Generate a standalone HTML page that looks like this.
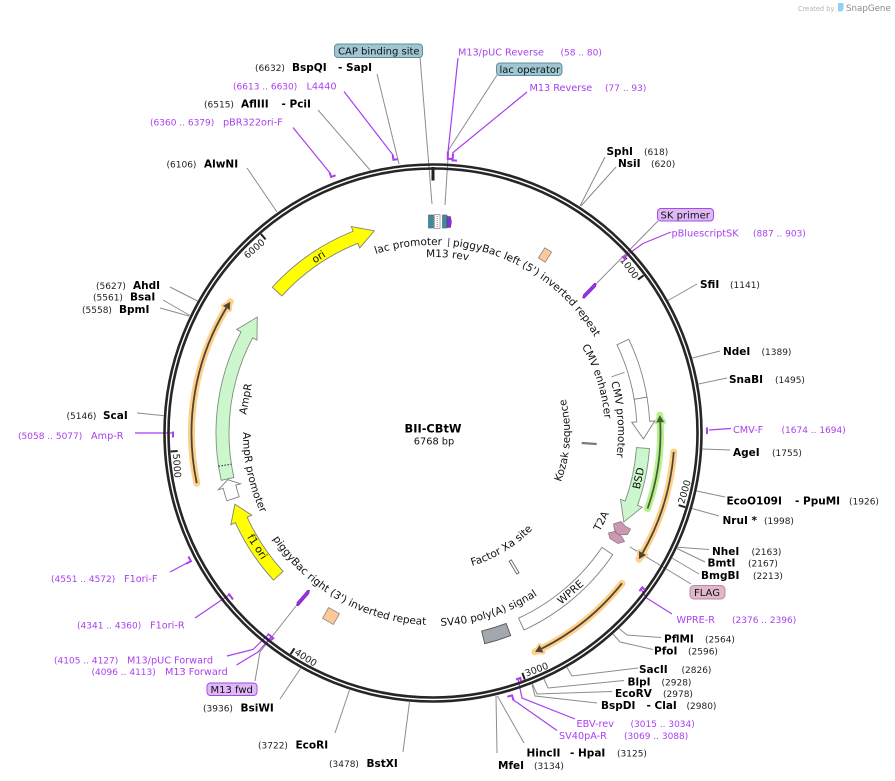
<!DOCTYPE html>
<html><head><meta charset="utf-8"><style>
html,body{margin:0;padding:0;background:#fff;}
svg{display:block;}
.b{font:bold 10.5px "DejaVu Sans",sans-serif;fill:#000;}
.n{font:9px "DejaVu Sans",sans-serif;fill:#222;}
.p{font:9.7px "DejaVu Sans",sans-serif;fill:#a83fef;}
.pn{font:9px "DejaVu Sans",sans-serif;fill:#a83fef;}
.f{font:10.5px "DejaVu Sans",sans-serif;fill:#111;}
.t{font:9.5px "DejaVu Sans",sans-serif;fill:#222;}
.bx{font:10px "DejaVu Sans",sans-serif;fill:#111;}
</style></head><body>
<svg width="895" height="781" viewBox="0 0 895 781" xmlns="http://www.w3.org/2000/svg">
<rect width="895" height="781" fill="#fff"/>
<defs>
<path id="cw188" d="M433,621 A188,188 0 1 1 433,245 A188,188 0 1 1 433,621"/>
<path id="cw176" d="M433,609 A176,176 0 1 1 433,257 A176,176 0 1 1 433,609"/>
<path id="cw172" d="M433,605 A172,172 0 1 1 433,261 A172,172 0 1 1 433,605"/>
<path id="cw185" d="M433,618 A185,185 0 1 1 433,248 A185,185 0 1 1 433,618"/>
<path id="ccw137" d="M433,296 A137,137 0 1 0 433,570 A137,137 0 1 0 433,296"/>
<path id="ccw138" d="M433,294.5 A138.5,138.5 0 1 0 433,571.5 A138.5,138.5 0 1 0 433,294.5"/>
<path id="ccw193" d="M433,240 A193,193 0 1 0 433,626 A193,193 0 1 0 433,240"/>
<path id="ccw192" d="M433,241 A192,192 0 1 0 433,625 A192,192 0 1 0 433,241"/>
<path id="ccw190" d="M433,243 A190,190 0 1 0 433,623 A190,190 0 1 0 433,243"/>
</defs>

<!-- watermark -->
<text x="798" y="11" style="font:6.6px 'DejaVu Sans',sans-serif;fill:#b4b4b4">Created by</text>
<path d="M838,3 L843.5,3 L843.5,8 Q843.5,11.5 840.5,11.5 L838,11.5 Z" fill="#8fd0f5"/>
<text x="846" y="11" style="font:8.7px 'DejaVu Sans',sans-serif;fill:#8a8a8a">SnapGene</text>

<!-- grey leader lines -->
<g stroke="#8c8c8c" stroke-width="1" fill="none">
<polyline points="420,57 432,204"/>
<polyline points="497,75 448.5,150 445,205"/>
<line x1="377" y1="74" x2="399" y2="164"/>
<line x1="318" y1="110" x2="370" y2="170"/>
<line x1="247" y1="168" x2="277" y2="212"/>
<line x1="605" y1="157" x2="580" y2="206"/>
<line x1="616" y1="167" x2="581" y2="206"/>
<line x1="658" y1="221" x2="597" y2="283"/>
<line x1="697" y1="284" x2="668" y2="300.5"/>
<line x1="720" y1="351" x2="692.5" y2="358"/>
<line x1="727" y1="378" x2="698.5" y2="384"/>
<line x1="730" y1="450" x2="702.5" y2="449"/>
<line x1="725" y1="497" x2="696.7" y2="491"/>
<line x1="719" y1="516" x2="692" y2="508.5"/>
<line x1="709" y1="549.5" x2="677.6" y2="547.3"/>
<line x1="705" y1="562" x2="677" y2="548.5"/>
<line x1="699" y1="574" x2="672" y2="558"/>
<line x1="691" y1="584" x2="630" y2="547"/>
<polyline points="661,637.5 627,635 619,628.5"/>
<polyline points="653,649.5 620,642 613,634"/>
<polyline points="638,668 572,676 567,667.5"/>
<polyline points="624,680.5 548,688 544,679"/>
<polyline points="612,691.5 537,694 532.4,684"/>
<polyline points="597,703 535,696 532,684.5"/>
<line x1="524" y1="743" x2="497.4" y2="696"/>
<line x1="497" y1="753" x2="496" y2="696"/>
<line x1="403" y1="752" x2="409.5" y2="702"/>
<line x1="335" y1="733" x2="349.5" y2="690"/>
<line x1="280" y1="699" x2="300.5" y2="668.5"/>
<polyline points="255,681 260,652 296,606"/>
<line x1="137" y1="413" x2="163.6" y2="415.6"/>
<line x1="160" y1="308" x2="189" y2="316"/>
<line x1="163" y1="300" x2="190" y2="315.5"/>
<line x1="170" y1="287" x2="197.5" y2="301"/>
<line x1="611.5" y1="376.8" x2="624.5" y2="372.3"/>
</g>

<!-- purple leader lines -->
<g stroke="#a83fef" stroke-width="1.2" fill="none">
<line x1="458" y1="58" x2="448" y2="152"/>
<line x1="527" y1="92" x2="452.5" y2="153"/>
<line x1="344" y1="91.5" x2="393" y2="155"/>
<line x1="293" y1="127.5" x2="330" y2="173"/>
<polyline points="671,232 643,243.5 624,257"/>
<line x1="731" y1="428.5" x2="709" y2="430"/>
<polyline points="672,614 646.5,598 641,589"/>
<polyline points="575,719 522,698 518,679"/>
<line x1="557" y1="730.5" x2="513.5" y2="700"/>
<polyline points="227,656 253,649.5 268,635"/>
<polyline points="236.5,665 258,652 271,637"/>
<line x1="195" y1="618" x2="229" y2="595"/>
<line x1="170" y1="572" x2="187" y2="563"/>
<line x1="135" y1="433" x2="172" y2="433"/>
</g>

<!-- main ring -->
<circle cx="433" cy="433" r="268.5" fill="none" stroke="#262626" stroke-width="2.6"/>
<circle cx="433" cy="433" r="264.5" fill="none" stroke="#262626" stroke-width="2.6"/>
<rect x="431.5" y="167" width="3" height="13.5" fill="#222"/>

<!-- ticks -->
<g stroke="#222" stroke-width="2">
<line x1="643.57" y1="275.42" x2="637.97" y2="279.61"/>
<line x1="685.34" y1="507.18" x2="678.62" y2="505.21"/>
<line x1="524.79" y1="679.47" x2="522.35" y2="672.91"/>
<line x1="290.65" y1="654.18" x2="294.44" y2="648.29"/>
<line x1="170.65" y1="451.54" x2="177.64" y2="451.05"/>
<line x1="260.97" y1="234.06" x2="265.55" y2="239.36"/>
</g>
<g class="t">
<text class="t" transform="rotate(53.191 433 433)" x="430.5" y="180" text-anchor="end">1000</text>
<text class="t" transform="rotate(-40.851 433 433)" x="430.5" y="180" text-anchor="end">6000</text>
<text class="t" transform="rotate(-73.617 433 433)" x="435.5" y="694" text-anchor="start">2000</text>
<text class="t" transform="rotate(-20.426 433 433)" x="435.5" y="694" text-anchor="start">3000</text>
<text class="t" transform="rotate(32.766 433 433)" x="435.5" y="694" text-anchor="start">4000</text>
<text class="t" transform="rotate(85.957 433 433)" x="435.5" y="694" text-anchor="start">5000</text>
</g>

<!-- primer markers -->
<g stroke="#a83fef" stroke-width="2" fill="none">
<polyline points="329.6,172.5 331.1,177 335.6,175.3"/>
<polyline points="392.7,154.9 393.4,159.8 397.7,159.3"/>
<polyline points="447.8,151.5 447.8,159 453.4,158.8"/>
<polyline points="453.1,153.3 452.5,160.4 457,160.6"/>
<polyline points="627,255.5 623,257 625.5,259.8"/>
<line x1="707" y1="427.5" x2="707" y2="434"/>
<polyline points="645,590 642.3,587.3 639.4,591.1"/>
<polyline points="521,681.5 520.3,677.9 516,679.4"/>
<polyline points="513.6,700.6 512,695.4 507.3,696.7"/>
<polyline points="270.5,640.5 273.3,638.2 267.6,633.6"/>
<polyline points="233,599.5 231.2,597 228.4,593.4"/>
<polyline points="186,563.8 190.9,561.2 188.4,556.5"/>
<line x1="173" y1="431.5" x2="173" y2="437.5"/>
</g>

<!-- ORF lines -->
<g fill="none" stroke-linecap="round">
<path d="M673.76,451.95 A241.5,241.5 0 0 1 638.91,559.18" stroke="#ffd08a" stroke-width="7"/>
<path d="M622.00,583.34 A241.5,241.5 0 0 1 535.06,651.87" stroke="#ffd08a" stroke-width="7"/>
<path d="M196.78,483.21 A241.5,241.5 0 0 1 230.23,301.82" stroke="#ffd08a" stroke-width="7"/>
<path d="M647.58,508.57 A227.5,227.5 0 0 0 659.80,415.15" stroke="#b9f08f" stroke-width="7"/>
</g>
<g stroke-linejoin="round">
<polygon points="639.10,551.03 638.91,559.18 646.04,555.01" fill="#ffd08a" stroke="#ffd08a" stroke-width="4"/>
<polygon points="539.71,645.18 535.06,651.87 543.31,652.32" fill="#ffd08a" stroke="#ffd08a" stroke-width="4"/>
<polygon points="229.82,309.97 230.23,301.82 222.97,305.82" fill="#ffd08a" stroke="#ffd08a" stroke-width="4"/>
<polygon points="656.25,422.47 659.80,415.15 664.24,422.09" fill="#b9f08f" stroke="#b9f08f" stroke-width="4"/>
</g>
<g fill="none" stroke-width="1.8">
<path d="M673.76,451.95 A241.5,241.5 0 0 1 642.57,553.02" stroke="#4d4535"/>
<path d="M622.00,583.34 A241.5,241.5 0 0 1 541.51,648.75" stroke="#4d4535"/>
<path d="M196.78,483.21 A241.5,241.5 0 0 1 226.39,307.90" stroke="#4d4535"/>
<path d="M647.58,508.57 A227.5,227.5 0 0 0 660.25,422.28" stroke="#43603a"/>
</g>
<polygon points="639.10,551.03 638.91,559.18 646.04,555.01" fill="#4d4535"/>
<polygon points="539.71,645.18 535.06,651.87 543.31,652.32" fill="#4d4535"/>
<polygon points="229.82,309.97 230.23,301.82 222.97,305.82" fill="#4d4535"/>
<polygon points="656.25,422.47 659.80,415.15 664.24,422.09" fill="#43603a"/>

<!-- features -->
<g stroke-width="0.9" stroke-linejoin="miter">
<path d="M272.25,287.24 A217,217 0 0 1 353.12,231.24 L351.28,226.59 L374.27,230.86 L359.74,247.97 L357.90,243.32 A204,204 0 0 0 281.88,295.97 Z" fill="#ffff00" stroke="#808080"/>
<path d="M221.21,480.34 A217,217 0 0 1 241.04,331.79 L236.62,329.46 L257.26,317.12 L256.97,340.19 L252.54,337.86 A204,204 0 0 0 233.90,477.50 Z" fill="#ccf7cc" stroke="#7f8f7f"/>
<line x1="218.55" y1="466.2" x2="231.4" y2="464.21" stroke="#222" stroke-width="1" stroke-dasharray="1.5,1.5"/>
<path d="M226.86,500.78 A217,217 0 0 1 223.20,488.43 L218.37,489.71 L227.73,479.64 L240.60,483.83 L235.77,485.11 A204,204 0 0 0 239.21,496.72 Z" fill="#fff" stroke="#808080"/>
<path d="M273.52,580.16 A217,217 0 0 1 235.38,522.64 L230.83,524.71 L234.94,504.30 L251.77,515.21 L247.22,517.27 A204,204 0 0 0 283.08,571.35 Z" fill="#ffff00" stroke="#808080"/>
<path d="M628.70,339.23 A217,217 0 0 1 647.03,397.18 L634.20,399.33 A204,204 0 0 0 616.98,344.85 Z" fill="#fff" stroke="#808080"/>
<path d="M647.03,397.18 A217,217 0 0 1 649.68,421.26 L654.68,421.00 L643.42,438.88 L631.71,422.24 L636.70,421.97 A204,204 0 0 0 634.20,399.33 Z" fill="#fff" stroke="#808080"/>
<path d="M649.45,448.52 A217,217 0 0 1 637.55,505.44 L642.27,507.11 L623.78,521.96 L620.59,499.43 L625.30,501.10 A204,204 0 0 0 636.48,447.59 Z" fill="#ccf7cc" stroke="#7f8f7f"/>
<path d="M612.72,554.63 A217,217 0 0 1 524.02,629.99 L518.57,618.19 A204,204 0 0 0 601.95,547.34 Z" fill="#fff" stroke="#808080"/>
<path d="M510.77,635.59 A217,217 0 0 1 484.76,643.74 L481.66,631.11 A204,204 0 0 0 506.11,623.45 Z" fill="#a3a7ae" stroke="#555"/>
<polygon points="613.5,524 621,521.5 625,526 630.5,529 627.5,534.5 618,535 614.5,530" fill="#cc99b2" stroke="#8a6a7a" stroke-width="0.7"/>
<polygon points="608.5,533 614.5,531.5 622,537 624.5,541.5 618,543.5 610,538.5" fill="#cc99b2" stroke="#8a6a7a" stroke-width="0.7"/>
<rect x="-4" y="-6" width="8" height="12" transform="translate(545,255) rotate(32.2)" fill="#ffc896" stroke="#888" stroke-width="0.8"/>
<rect x="-6.2" y="-6.2" width="12.4" height="12.4" transform="translate(331,616) rotate(29.1)" fill="#ffc896" stroke="#888" stroke-width="0.8"/>
<polygon points="-10,0 -7,-1.6 9,-1.6 10,0 7,1.6 -9,1.6" transform="translate(589.5,290.7) rotate(-46)" fill="#9b30e6" stroke="#5f1c8f" stroke-width="0.5"/>
<polygon points="-10,0 -7,-1.6 9,-1.6 10,0 7,1.6 -9,1.6" transform="translate(303,598) rotate(-48.8)" fill="#9b30e6" stroke="#5f1c8f" stroke-width="0.5"/>
<rect x="-1.1" y="-7.5" width="2.2" height="15" transform="translate(589.2,443.5) rotate(93.7)" fill="#7a7a7a"/>
<rect x="-1.3" y="-7.5" width="2.6" height="15" transform="translate(514.1,567) rotate(148.8)" fill="#fff" stroke="#666" stroke-width="0.9"/>
<rect x="428.5" y="215" width="5" height="13" fill="#3a8ca3" stroke="#555" stroke-width="0.6"/>
<rect x="434.5" y="214.5" width="5.5" height="14" fill="#fff" stroke="#777" stroke-width="0.6"/>
<line x1="437.2" y1="216" x2="437.2" y2="227" stroke="#777" stroke-width="1" stroke-dasharray="1,1"/>
<rect x="442.5" y="215" width="4.5" height="13" fill="#3a8ca3" stroke="#555" stroke-width="0.6"/>
<polygon points="447,216.5 450.5,216.5 451.5,222 450.5,227.5 447,227.5" fill="#8a2be2" stroke="#444" stroke-width="0.5"/>
</g>
<line x1="449" y1="238" x2="448.3" y2="247" stroke="#555" stroke-width="1"/>

<!-- inner feature labels -->
<text class="f"><textPath href="#cw188" startOffset="565.66" text-anchor="middle">lac promoter</textPath></text>
<text class="f"><textPath href="#cw176" startOffset="567.05" text-anchor="middle">M13 rev</textPath></text>
<text class="f"><textPath href="#cw188" startOffset="697.57" text-anchor="middle">piggyBac left (5') inverted repeat</textPath></text>
<text class="f"><textPath href="#cw172" startOffset="758.0" text-anchor="middle">CMV enhancer</textPath></text>
<text class="f"><textPath href="#cw185" startOffset="857.92" text-anchor="middle">CMV promoter</textPath></text>
<text class="f"><textPath href="#ccw137" startOffset="637.47" text-anchor="middle">Kozak sequence</textPath></text>
<text class="f"><textPath href="#ccw138" startOffset="510.29" text-anchor="middle">Factor Xa site</textPath></text>
<text class="f"><textPath href="#ccw193" startOffset="665.27" text-anchor="middle">SV40 poly(A) signal</textPath></text>
<text class="f"><textPath href="#ccw192" startOffset="504.67" text-anchor="middle">piggyBac right (3') inverted repeat</textPath></text>
<text class="f"><textPath href="#ccw190" startOffset="339.24" text-anchor="middle">AmpR promoter</textPath></text>
<text class="f" transform="rotate(327 433 433)" x="433" y="226.5" text-anchor="middle">ori</text>
<text class="f" transform="rotate(280.3 433 433)" x="433" y="246" text-anchor="middle">AmpR</text>
<text class="f" transform="rotate(-77.6 433 433)" x="433" y="647" text-anchor="middle">BSD</text>
<text class="f" transform="rotate(-62.4 433 433)" x="433" y="626.4" text-anchor="middle">T2A</text>
<text class="f" transform="rotate(-40.8 433 433)" x="433" y="646.8" text-anchor="middle">WPRE</text>
<text class="f" transform="rotate(57.1 433 433)" x="433" y="645.8" text-anchor="middle">f1 ori</text>

<!-- center -->
<text x="433" y="432.5" text-anchor="middle" style="font:bold 11.4px 'DejaVu Sans',sans-serif;fill:#000">BII-CBtW</text>
<text x="434" y="444.5" text-anchor="middle" style="font:9.8px 'DejaVu Sans',sans-serif;fill:#111">6768 bp</text>

<!-- boxed labels -->
<rect x="334.5" y="44" width="88" height="13.5" rx="3.5" fill="#9fc6d2" stroke="#5c8e9b" stroke-width="1"/>
<text class="bx" x="338" y="54.5">CAP binding site</text>
<rect x="496.5" y="63" width="65.5" height="12.5" rx="3.5" fill="#9fc6d2" stroke="#5c8e9b" stroke-width="1"/>
<text class="bx" x="499.5" y="73">lac operator</text>
<rect x="657.5" y="208.5" width="56" height="12.5" rx="3.5" fill="#dfb8f7" stroke="#a24ee0" stroke-width="1"/>
<text class="bx" x="660.5" y="218.5">SK primer</text>
<rect x="690" y="585.5" width="35" height="13.5" rx="4" fill="#e0b7c9" stroke="#b58ca0" stroke-width="1"/>
<text class="bx" x="694" y="596">FLAG</text>
<rect x="207" y="683" width="50" height="12.5" rx="3.5" fill="#dfb8f7" stroke="#a24ee0" stroke-width="1"/>
<text class="bx" x="210.5" y="693">M13 fwd</text>

<!-- top labels -->
<text class="p" x="458" y="55.5">M13/pUC Reverse</text><text class="pn" x="560.5" y="55.5">(58 .. 80)</text>
<text class="p" x="529.5" y="91">M13 Reverse</text><text class="pn" x="605" y="91">(77 .. 93)</text>
<text class="n" x="255" y="71">(6632)</text><text class="b" x="292" y="71">BspQI</text><text class="b" x="338" y="71">- SapI</text>
<text class="pn" x="233" y="89.5">(6613 .. 6630)</text><text class="p" x="306.5" y="89.5">L4440</text>
<text class="n" x="204" y="107.5">(6515)</text><text class="b" x="241" y="107.5">AflIII</text><text class="b" x="281.5" y="107.5">- PciI</text>
<text class="pn" x="150" y="125.5">(6360 .. 6379)</text><text class="p" x="223" y="125.5">pBR322ori-F</text>
<text class="n" x="166.5" y="167.5">(6106)</text><text class="b" x="204" y="167.5">AlwNI</text>

<!-- right labels -->
<text class="b" x="606.5" y="155">SphI</text><text class="n" x="644" y="155">(618)</text>
<text class="b" x="618" y="167">NsiI</text><text class="n" x="651" y="167">(620)</text>
<text class="p" x="671.5" y="236.5">pBluescriptSK</text><text class="pn" x="753" y="236.5">(887 .. 903)</text>
<text class="b" x="700" y="288">SfiI</text><text class="n" x="730" y="288">(1141)</text>
<text class="b" x="723" y="355">NdeI</text><text class="n" x="761.5" y="355">(1389)</text>
<text class="b" x="729" y="383">SnaBI</text><text class="n" x="775" y="383">(1495)</text>
<text class="p" x="733" y="433">CMV-F</text><text class="pn" x="781.5" y="433">(1674 .. 1694)</text>
<text class="b" x="733" y="456">AgeI</text><text class="n" x="772" y="456">(1755)</text>
<text class="b" x="726.5" y="504.5">EcoO109I</text><text class="b" x="795" y="504.5">- PpuMI</text><text class="n" x="849" y="504.5">(1926)</text>
<text class="b" x="722.5" y="524">NruI *</text><text class="n" x="764" y="524">(1998)</text>
<text class="b" x="712" y="555">NheI</text><text class="n" x="751.5" y="555">(2163)</text>
<text class="b" x="707.5" y="566.5">BmtI</text><text class="n" x="748" y="566.5">(2167)</text>
<text class="b" x="701" y="579">BmgBI</text><text class="n" x="753" y="579">(2213)</text>
<text class="p" x="676.5" y="623">WPRE-R</text><text class="pn" x="732" y="623">(2376 .. 2396)</text>
<text class="b" x="664" y="642.5">PflMI</text><text class="n" x="705" y="642.5">(2564)</text>
<text class="b" x="654" y="654.5">PfoI</text><text class="n" x="688" y="654.5">(2596)</text>
<text class="b" x="639" y="673">SacII</text><text class="n" x="681.5" y="673">(2826)</text>
<text class="b" x="627.5" y="685.5">BlpI</text><text class="n" x="661.5" y="685.5">(2928)</text>
<text class="b" x="615" y="697">EcoRV</text><text class="n" x="663" y="697">(2978)</text>
<text class="b" x="601" y="709">BspDI</text><text class="b" x="646.5" y="709">- ClaI</text><text class="n" x="686.5" y="709">(2980)</text>
<text class="p" x="576.5" y="727">EBV-rev</text><text class="pn" x="630.5" y="727">(3015 .. 3034)</text>
<text class="p" x="559" y="739">SV40pA-R</text><text class="pn" x="624" y="739">(3069 .. 3088)</text>
<text class="b" x="526.5" y="756.5">HincII</text><text class="b" x="570" y="756.5">- HpaI</text><text class="n" x="617" y="756.5">(3125)</text>
<text class="b" x="498" y="769">MfeI</text><text class="n" x="534" y="769">(3134)</text>

<!-- bottom-left labels -->
<text class="n" x="329" y="767">(3478)</text><text class="b" x="366.5" y="767">BstXI</text>
<text class="n" x="258" y="748.5">(3722)</text><text class="b" x="295.5" y="748.5">EcoRI</text>
<text class="n" x="203" y="711.5">(3936)</text><text class="b" x="240.5" y="711.5">BsiWI</text>
<text class="pn" x="91.5" y="675">(4096 .. 4113)</text><text class="p" x="165" y="675">M13 Forward</text>
<text class="pn" x="54" y="663.5">(4105 .. 4127)</text><text class="p" x="127" y="663.5">M13/pUC Forward</text>
<text class="pn" x="77" y="628.5">(4341 .. 4360)</text><text class="p" x="150" y="628.5">F1ori-R</text>
<text class="pn" x="51" y="582">(4551 .. 4572)</text><text class="p" x="124" y="582">F1ori-F</text>

<!-- left labels -->
<text class="n" x="96" y="289">(5627)</text><text class="b" x="133" y="289">AhdI</text>
<text class="n" x="93" y="300.5">(5561)</text><text class="b" x="130" y="300.5">BsaI</text>
<text class="n" x="82" y="313">(5558)</text><text class="b" x="119" y="313">BpmI</text>
<text class="n" x="66.5" y="419">(5146)</text><text class="b" x="103" y="419">ScaI</text>
<text class="pn" x="18" y="439">(5058 .. 5077)</text><text class="p" x="91" y="439">Amp-R</text>
</svg>
</body></html>
